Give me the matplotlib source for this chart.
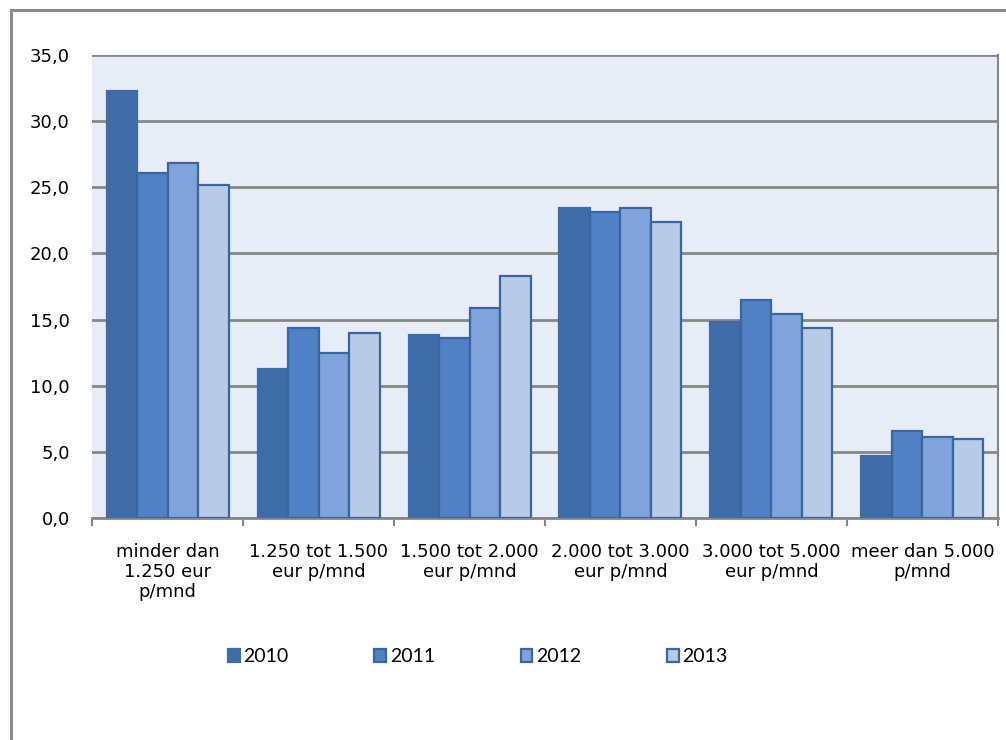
import matplotlib
matplotlib.use("Agg")
import matplotlib.pyplot as plt
import numpy as np
from matplotlib.lines import Line2D
from matplotlib.ticker import FuncFormatter

categories = ["minder dan\n1.250 eur\np/mnd", "1.250 tot 1.500\neur p/mnd",
              "1.500 tot 2.000\neur p/mnd", "2.000 tot 3.000\neur p/mnd",
              "3.000 tot 5.000\neur p/mnd", "meer dan 5.000\np/mnd"]
years = ["2010", "2011", "2012", "2013"]
v2010 = [32.3, 11.3, 13.8, 23.4, 14.8, 4.7]
v2011 = [26.1, 14.4, 13.6, 23.1, 16.5, 6.6]
v2012 = [26.8, 12.5, 15.9, 23.4, 15.4, 6.1]
v2013 = [25.2, 14.0, 18.3, 22.4, 14.4, 6.0]
series = [v2010, v2011, v2012, v2013]

fills = ["#3D6CA6", "#4F81C4", "#80A4DA", "#B7CAE6"]
edges = ["#3D6CA6", "#3A659F", "#3A659F", "#3A659F"]

fig = plt.figure(figsize=(10.06, 7.40), dpi=100)
ax = fig.add_axes([0.0915, 0.30, 0.9005, 0.6257])
ax.set_facecolor("#E8ECF6")

x = np.arange(len(categories))
w = 0.202
for i, (vals, yr) in enumerate(zip(series, years)):
    ax.bar(x + (i - 1.5) * w, vals, w, color=fills[i], edgecolor=edges[i],
           linewidth=1.6, label=yr, zorder=3)

ax.set_xlim(-0.5, len(categories) - 0.5)
ax.set_ylim(0, 35)
ax.set_yticks(np.arange(0, 36, 5))
ax.yaxis.set_major_formatter(FuncFormatter(lambda v, p: f"{v:.1f}".replace(".", ",")))
ax.yaxis.grid(True, color="#868686", linewidth=2, zorder=1)
ax.tick_params(axis="y", length=0, labelsize=13, pad=16)

ax.set_xticks(x)
ax.set_xticklabels(categories, fontsize=13, linespacing=1.15)
ax.set_xticks(np.arange(-0.5, len(categories)), minor=True)
ax.tick_params(axis="x", which="major", length=0, pad=18)
ax.tick_params(axis="x", which="minor", length=6, width=1.5, color="#868686")

for s in ["top", "left"]:
    ax.spines[s].set_visible(False)
ax.spines["bottom"].set_color("#868686")
ax.spines["bottom"].set_linewidth(2)
ax.spines["right"].set_color("#868686")
ax.spines["right"].set_linewidth(1.5)

# outer chart border (left and top edges visible)
fig.add_artist(Line2D([0.0105, 0.0105], [0, 1 - 10 / 740], color="#8C8C8C", lw=2.2))
fig.add_artist(Line2D([0.0105, 1], [1 - 10 / 740, 1 - 10 / 740], color="#8C8C8C", lw=2.2))

leg = fig.legend(loc="center", bbox_to_anchor=(0.475, 1 - 657 / 740), ncol=4,
                 frameon=False, handlelength=0.6, handleheight=0.6,
                 handletextpad=0.2, columnspacing=4.4,
                 prop={"family": "Lato", "size": 14})

fig.savefig("out.png", dpi=100)
